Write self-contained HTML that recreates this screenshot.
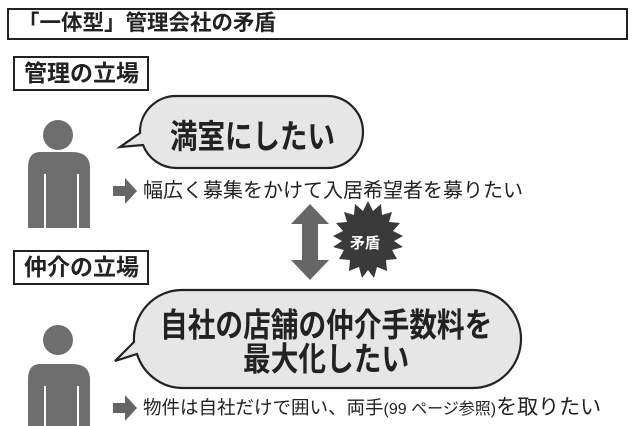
<!DOCTYPE html>
<html><head><meta charset="utf-8"><style>
body{margin:0;width:640px;height:426px;background:#fff;overflow:hidden;position:relative;font-family:"Liberation Sans","Noto Sans CJK JP",sans-serif;}
.a{position:absolute;white-space:nowrap;}
.box{position:absolute;border:2px solid #222;box-sizing:border-box;font-weight:bold;color:#222;white-space:nowrap;}
</style></head><body>
<div class="box" style="left:7px;top:8px;width:621px;height:32px;border-width:2.5px;font-size:21.5px;line-height:27px;padding-left:9px;">「一体型」管理会社の矛盾</div>
<div class="box" style="left:13px;top:56px;width:136px;height:35px;font-size:23px;line-height:31px;padding-left:9px;">管理の立場</div>
<div class="box" style="left:13px;top:250px;width:136px;height:35px;font-size:23px;line-height:31px;padding-left:9px;">仲介の立場</div>
<svg class="a" style="left:0;top:0" width="640" height="426">
<g fill="#6e6e6e">
<circle cx="58" cy="135" r="15"/>
<path d="M40 152h32q18 0 18 16v60h-62v-60q0-16 12-16z"/>
<circle cx="58" cy="340" r="15"/>
<path d="M40 364h32q18 0 18 16v50h-62v-50q0-16 12-16z"/>
</g>
<g stroke="#fff" stroke-width="2"><line x1="45" y1="174" x2="45" y2="230"/><line x1="78" y1="174" x2="78" y2="230"/><line x1="45" y1="386" x2="45" y2="430"/><line x1="78" y1="386" x2="78" y2="430"/></g>
<path d="M176 96h151a36 36 0 0 1 0 72h-151a36 36 0 0 1-33-23l-23 2 20-14a36 36 0 0 1 36-37z" fill="#e6e6e6" stroke="#222" stroke-width="2.2"/>
<path d="M182 290h291a48 49 0 0 1 0 98h-291a48 49 0 0 1-45-34l-22 7 19-19a48 49 0 0 1 48-52z" fill="#e6e6e6" stroke="#222" stroke-width="2.2"/>
<g fill="#666"><path d="M113 186h12v-8l12 13-12 13v-8h-12z"/><path d="M113 403h12v-8l12 13-12 13v-8h-12z"/>
<path d="M310 204l19 20h-11v36h11l-19 20-19-20h11v-36h-11z"/></g>
<polygon fill="#3a3a3a" points="
368,201 373,211 381,204 382,215 392,212 389,222 400,223 393,231 403,236 394,241 403,247 392,250 397,259 386,260 387,271 377,267 374,278 368,270 362,278 359,267 349,271 350,260 339,259 344,250 333,247 342,241 333,236 343,231 336,223 347,222 344,212 354,215 355,204 363,211"/>
</svg>
<div class="a" style="left:170px;top:120px;font-size:27.5px;font-weight:bold;color:#222;line-height:34px;transform:scaleY(1.2);transform-origin:0 50%;">満室にしたい</div>
<div class="a" style="left:160px;top:309px;font-size:27.7px;font-weight:bold;color:#222;line-height:34px;transform:scaleY(1.18);transform-origin:0 50%;">自社の店舗の仲介手数料を</div>
<div class="a" style="left:243px;top:343px;font-size:27.7px;font-weight:bold;color:#222;line-height:34px;transform:scaleY(1.18);transform-origin:0 50%;">最大化したい</div>
<div class="a" style="left:143px;top:178px;font-size:20px;color:#222;line-height:26px;">幅広く募集をかけて入居希望者を募りたい</div>
<div class="a" style="left:143px;top:395px;font-size:18.5px;color:#222;line-height:26px;">物件は自社だけで囲い、両手<span style="font-size:16px;">(99 ページ参照)</span><span style="font-size:21px;">を取りたい</span></div>
<div class="a" style="left:350px;top:235px;font-size:15px;font-weight:bold;color:#fff;line-height:18px;">矛盾</div>
</body></html>
